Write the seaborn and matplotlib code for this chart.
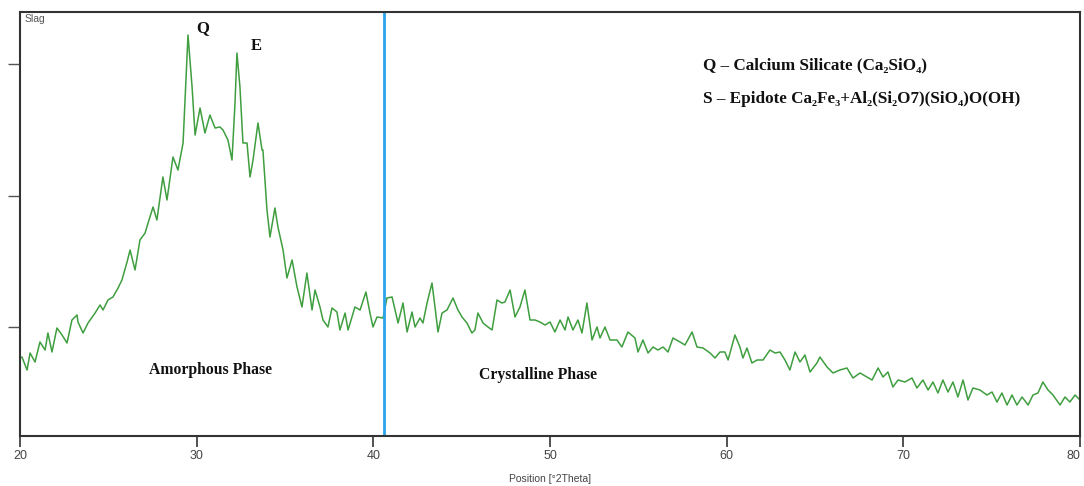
import matplotlib
matplotlib.use("Agg")
import matplotlib.pyplot as plt
import seaborn as sns
import pandas as pd
from matplotlib.ticker import MultipleLocator

# ---- data (x: Position [°2Theta], y: intensity, arbitrary units) ----
two_theta = [
    20.00, 20.11, 20.40, 20.57, 20.85, 21.13, 21.42, 21.58, 21.81, 22.09, 22.38, 22.66, 22.94, 23.23, 23.28,
    23.57, 23.85, 24.25, 24.53, 24.70, 24.98, 25.26, 25.55, 25.77, 26.06, 26.23, 26.51, 26.79, 27.08, 27.25,
    27.53, 27.75, 28.09, 28.32, 28.66, 28.94, 29.23, 29.51, 29.74, 29.91, 30.19, 30.47, 30.75, 31.04, 31.32,
    31.49, 31.77, 32.00, 32.17, 32.28, 32.45, 32.62, 32.85, 33.02, 33.19, 33.47, 33.70, 33.75, 33.98, 34.15,
    34.43, 34.60, 34.89, 35.11, 35.40, 35.68, 35.96, 36.24, 36.53, 36.70, 36.98, 37.15, 37.43, 37.66, 37.94,
    38.11, 38.40, 38.57, 38.96, 39.25, 39.58, 39.81, 39.98, 40.21, 40.55, 40.77, 41.06, 41.40, 41.68, 41.91,
    42.19, 42.36, 42.64, 42.81, 43.04, 43.32, 43.49, 43.66, 43.89, 44.17, 44.51, 44.79, 45.02, 45.30, 45.58,
    45.75, 45.92, 46.21, 46.49, 46.72, 47.00, 47.28, 47.45, 47.74, 48.02, 48.30, 48.58, 48.87, 49.15, 49.43,
    49.72, 50.00, 50.28, 50.57, 50.85, 51.02, 51.30, 51.58, 51.81, 52.09, 52.38, 52.66, 52.83, 53.11, 53.40,
    53.79, 54.07, 54.41, 54.81, 54.98, 55.26, 55.55, 55.83, 56.11, 56.40, 56.68, 56.96, 57.36, 57.64, 58.04,
    58.32, 58.66, 59.06, 59.34, 59.62, 59.90, 60.08, 60.47, 60.75, 60.92, 61.15, 61.43, 61.72, 62.06, 62.45,
    62.74, 63.02, 63.30, 63.58, 63.87, 64.15, 64.43, 64.72, 65.11, 65.28, 65.68, 66.02, 66.41, 66.81, 67.15,
    67.55, 67.94, 68.23, 68.57, 68.85, 69.13, 69.41, 69.70, 70.09, 70.49, 70.77, 71.11, 71.40, 71.68, 71.96,
    72.24, 72.53, 72.81, 73.09, 73.38, 73.66, 73.94, 74.34, 74.73, 75.02, 75.30, 75.58, 75.87, 76.15, 76.43,
    76.72, 77.06, 77.34, 77.62, 77.90, 78.19, 78.47, 78.87, 79.15, 79.43, 79.72, 80.00,
]
intensity = [
    78, 79, 66, 83, 74, 94, 86, 103, 84, 108, 101, 93, 116, 121, 114,
    103, 113, 123, 131, 126, 136, 139, 148, 156, 174, 186, 166, 196, 203, 213,
    229, 216, 259, 236, 279, 266, 293, 401, 349, 301, 328, 303, 321, 308, 309,
    306, 296, 276, 333, 383, 349, 293, 293, 259, 276, 313, 286, 286, 226, 199,
    228, 209, 186, 158, 176, 149, 129, 163, 126, 146, 129, 116, 109, 128, 124,
    106, 123, 106, 129, 126, 144, 123, 109, 119, 118, 138, 139, 113, 133, 104,
    124, 109, 118, 113, 133, 153, 129, 104, 123, 126, 138, 126, 119, 113, 103,
    106, 123, 113, 109, 106, 136, 133, 134, 146, 119, 129, 146, 116, 116, 114,
    111, 114, 104, 116, 106, 119, 106, 116, 103, 133, 96, 109, 98, 109, 96,
    96, 89, 104, 98, 84, 96, 83, 89, 86, 89, 84, 98, 94, 91, 104,
    89, 88, 83, 78, 84, 84, 76, 101, 89, 78, 88, 73, 76, 76, 86,
    83, 84, 76, 66, 84, 74, 81, 64, 73, 79, 69, 63, 66, 68, 58,
    63, 59, 56, 68, 59, 64, 49, 56, 54, 58, 48, 56, 46, 54, 43,
    56, 44, 54, 39, 56, 36, 48, 46, 41, 44, 34, 43, 31, 41, 31,
    39, 31, 41, 43, 54, 46, 41, 31, 39, 34, 41, 36,
]
boundary_2theta = 40.60
sample_name = "Slag"
x_label = "Position [°2Theta]"
x_ticks = [20, 30, 40, 50, 60, 70, 80]
x_tick_labels = ["20", "30", "40", "50", "60", "70", "80"]
y_ticks = [109, 240, 372]
peak_labels = ["Q", "E"]
legend_lines = [
    "Q \u2013 Calcium Silicate (Ca\u2082SiO\u2084)",
    "S \u2013 Epidote Ca\u2082Fe\u2083+Al\u2082(Si\u2082O7)(SiO\u2084)O(OH)",
]
phase_labels = ["Amorphous Phase", "Crystalline Phase"]

df = pd.DataFrame({"two_theta": two_theta, "intensity": intensity})

sns.set_theme(style="white")
plt.rcParams["font.family"] = ["Liberation Sans", "DejaVu Sans"]

fig = plt.figure(figsize=(10.84, 4.86), dpi=100)
ax = fig.add_axes([20 / 1084, 50 / 486, 1060 / 1084, 424 / 486])

sns.lineplot(data=df, x="two_theta", y="intensity", ax=ax, color="#3f9e3f", linewidth=1.1)
ax.axvline(boundary_2theta, color="#2aa4ec", linewidth=2.0)

ax.set_xlim(20, 80)
ax.set_ylim(0, 424)
ax.set_xticks(x_ticks)
ax.set_xticklabels(x_tick_labels)
# keep the last label inside the figure
ax.get_xticklabels()[-1].set_horizontalalignment("right")
ax.xaxis.set_minor_locator(MultipleLocator(1))
ax.set_yticks(y_ticks)
ax.set_yticklabels([])
ax.tick_params(axis="x", which="major", direction="out", length=8, width=1.2,
               color="#333333", labelsize=9, labelcolor="#444444", pad=2)
ax.tick_params(axis="x", which="minor", direction="out", length=3, width=1.0, color="#333333")
ax.tick_params(axis="y", which="major", direction="out", length=9, width=1.0,
               color="#555555", left=True)
ax.tick_params(axis="x", bottom=True)
for s in ax.spines.values():
    s.set_color("#333333")
    s.set_linewidth(1.5)
ax.set_xlabel(x_label, fontsize=7.5, color="#444444", labelpad=9)
ax.set_ylabel("")

ax.text(0.004, 0.995, sample_name, transform=ax.transAxes, ha="left", va="top",
        fontsize=7.5, color="#555555")

serif = ["Liberation Serif", "DejaVu Serif"]
ax.text(30.36, 408, peak_labels[0], ha="center", va="center", fontsize=12,
        fontweight="bold", family=serif, color="#111111")
ax.text(33.36, 390, peak_labels[1], ha="center", va="center", fontsize=12,
        fontweight="bold", family=serif, color="#111111")

ax.text(0.644, 0.875, legend_lines[0], transform=ax.transAxes, ha="left", va="center",
        fontsize=12.3, fontweight="bold", family=serif, color="#111111")
ax.text(0.644, 0.795, legend_lines[1], transform=ax.transAxes, ha="left", va="center",
        fontsize=12.3, fontweight="bold", family=serif, color="#111111")

ax.text(30.8, 66, phase_labels[0], ha="center", va="center", fontsize=11.3,
        fontweight="bold", family=serif, color="#111111")
ax.text(49.3, 61, phase_labels[1], ha="center", va="center", fontsize=11.3,
        fontweight="bold", family=serif, color="#111111")

fig.savefig("out.png", dpi=100, facecolor="white")
